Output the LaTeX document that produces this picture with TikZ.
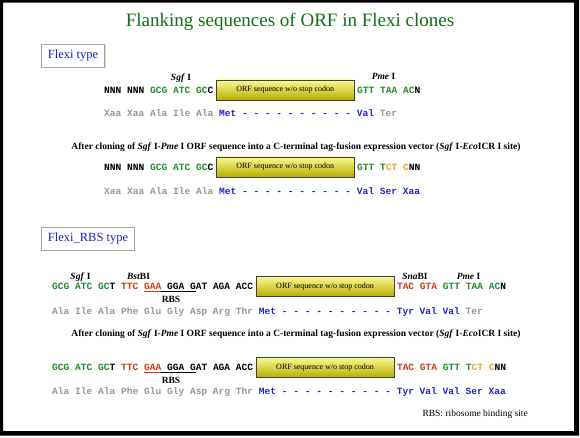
\documentclass[tikz,border=0pt]{standalone}
\usepackage{fontspec}
\setmainfont{Liberation Serif}
\newfontfamily\seqfont{Liberation Mono}
\usepackage{xcolor}
\usepackage{tikz}
\usetikzlibrary{positioning, shadows}

\definecolor{titlegreen}{RGB}{20,110,20}
\definecolor{typeblue}{RGB}{30,30,200}
\definecolor{ntgreen}{RGB}{30,140,40}
\definecolor{ntred}{RGB}{205,60,20}
\definecolor{ntorange}{RGB}{240,160,40}
\definecolor{aagray}{RGB}{150,150,150}
\definecolor{aablue}{RGB}{35,35,205}
\definecolor{orftop}{RGB}{250,250,150}
\definecolor{orfmid}{RGB}{235,230,40}
\definecolor{orfbot}{RGB}{185,175,0}

\newcommand{\ntG}[1]{\textcolor{ntgreen}{#1}}
\newcommand{\ntR}[1]{\textcolor{ntred}{#1}}
\newcommand{\ntO}[1]{\textcolor{ntorange}{#1}}
\newcommand{\aaG}[1]{\textcolor{aagray}{#1}}
\newcommand{\aaB}[1]{\textcolor{aablue}{#1}}

\begin{document}
\begin{tikzpicture}[
    x=1pt, y=1pt,
    node distance=2.5pt,
    % Title and type boxes
    title_text/.style={font=\fontsize{19}{22}\selectfont, text=titlegreen},
    type_box/.style={
        draw=gray!70, fill=white, line width=0.8pt, anchor=north west,
        minimum height=23pt, inner xsep=6.5pt, text=typeblue,
        font=\fontsize{12.5}{14}\selectfont,
        drop shadow={shadow xshift=0.8pt, shadow yshift=-0.8pt, opacity=0.35}
    },
    orf/.style={
        draw=black!75, minimum width=138pt, minimum height=20pt, inner sep=0pt,
        top color=orftop, middle color=orfmid, bottom color=orfbot,
        font=\fontsize{8}{9}\selectfont
    },
    % Sequences
    nt/.style={inner sep=0pt, text height=6.6pt, text depth=0pt,
        font=\seqfont\bfseries\fontsize{9.57}{11}\selectfont},
    aa/.style={nt, anchor=base west},
    % Labels
    site/.style={anchor=base, font=\bfseries\fontsize{9.5}{11}\selectfont},
    note_text/.style={anchor=base, font=\bfseries\fontsize{9.5}{11}\selectfont},
    foot_text/.style={anchor=base west, font=\fontsize{9.5}{11}\selectfont}
]

    \def\dashes{- - - - - - - - - -}

    % --- FRAME ---
    \useasboundingbox (0,0) rectangle (580,-437);
    \fill[black, even odd rule] (0,0) rectangle (579,-435.5) (3,-2.5) rectangle (574,-431);

    \node[title_text] (title) at (290,-22) {Flanking sequences of ORF in Flexi clones};

    % --- FLEXI TYPE ---
    \node[type_box] (flexi) at (41,-44) {Flexi type};

    \node[nt, anchor=base west] (nt-1L) at (104,-93) {NNN NNN \ntG{GCG ATC GC}C};
    \node[orf, right=of nt-1L] (orf-1) {ORF sequence w/o stop codon};
    \node[nt, right=of orf-1] (nt-1R) {\ntG{GTT TAA AC}N};
    \node[aa] (aa-1) at (104,-116) {\aaG{Xaa Xaa Ala Ile Ala} \aaB{Met \dashes{} Val} \aaG{Ter}};

    \node[site] (sgf-1) at (181,-80.5) {\textit{Sgf} I};
    \node[site] (pme-1) at (383.5,-79.5) {\textit{Pme} I};

    \node[note_text] (note-1) at (296,-149) {After cloning of \textit{Sgf} I-\textit{Pme} I ORF sequence into a C-terminal tag-fusion expression vector (\textit{Sgf} I-\textit{Eco}ICR I site)};

    \node[nt, anchor=base west] (nt-2L) at (104,-170) {NNN NNN \ntG{GCG ATC GC}C};
    \node[orf, right=of nt-2L] (orf-2) {ORF sequence w/o stop codon};
    \node[nt, right=of orf-2] (nt-2R) {\ntG{GTT T}\ntO{CT C}NN};
    \node[aa] (aa-2) at (104,-194) {\aaG{Xaa Xaa Ala Ile Ala} \aaB{Met \dashes{} Val Ser Xaa}};

    % --- FLEXI_RBS TYPE ---
    \node[type_box] (flexirbs) at (41,-227) {Flexi\_RBS type};

    \node[nt, anchor=base west] (nt-3L) at (52,-289.5) {\ntG{GCG ATC GC}T \ntR{TTC \underline{GAA}}\underline{ GGA G}AT AGA ACC};
    \node[orf, right=of nt-3L] (orf-3) {ORF sequence w/o stop codon};
    \node[nt, right=of orf-3] (nt-3R) {\ntR{TAC GTA} \ntG{GTT TAA AC}N};
    \node[site] (rbs-3) at (171,-302.5) {RBS};
    \node[aa] (aa-3) at (52,-314) {\aaG{Ala Ile Ala Phe Glu Gly Asp Arg Thr} \aaB{Met \dashes{} Tyr Val Val} \aaG{Ter}};

    \node[site] (sgf-3) at (80.5,-279.5) {\textit{Sgf} I};
    \node[site] (bst-3) at (138.5,-279) {\textit{Bst}BI};
    \node[site] (sna-3) at (415,-279) {\textit{Sna}BI};
    \node[site] (pme-3) at (468.5,-279) {\textit{Pme} I};

    \node[note_text] (note-2) at (296,-336) {After cloning of \textit{Sgf} I-\textit{Pme} I ORF sequence into a C-terminal tag-fusion expression vector (\textit{Sgf} I-\textit{Eco}ICR I site)};

    \node[nt, anchor=base west] (nt-4L) at (52,-370.5) {\ntG{GCG ATC GC}T \ntR{TTC \underline{GAA}}\underline{ GGA G}AT AGA ACC};
    \node[orf, right=of nt-4L] (orf-4) {ORF sequence w/o stop codon};
    \node[nt, right=of orf-4] (nt-4R) {\ntR{TAC GTA} \ntG{GTT T}\ntO{CT C}NN};
    \node[site] (rbs-4) at (171,-383.5) {RBS};
    \node[aa] (aa-4) at (52,-394) {\aaG{Ala Ile Ala Phe Glu Gly Asp Arg Thr} \aaB{Met \dashes{} Tyr Val Val Ser Xaa}};

    \node[foot_text] (foot) at (419,-416) {RBS: ribosome binding site};

\end{tikzpicture}
\end{document}
